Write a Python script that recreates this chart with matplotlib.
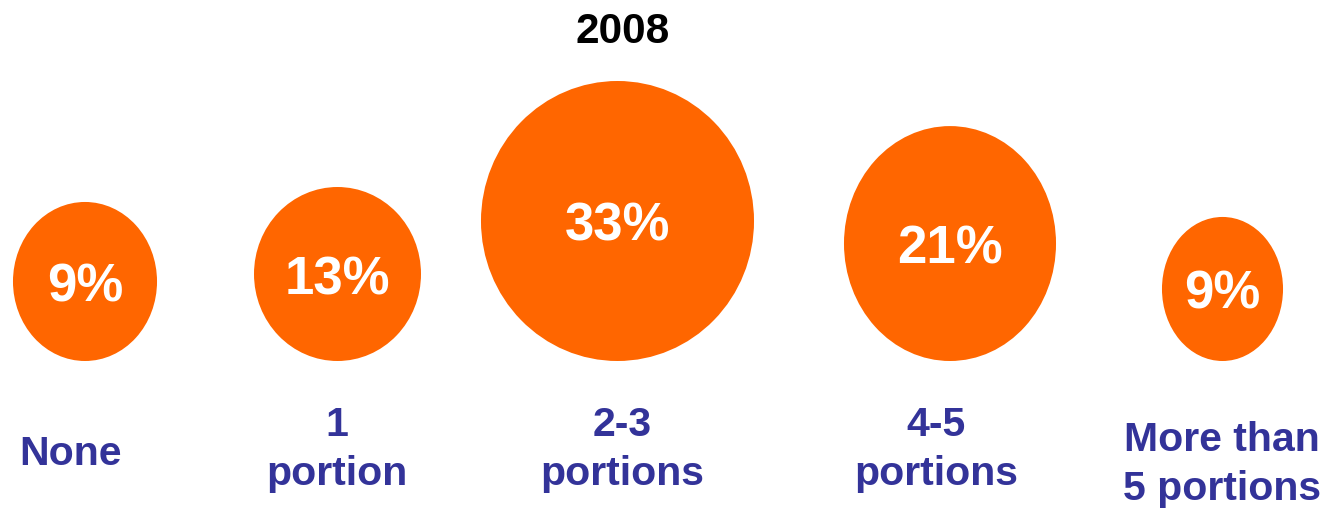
import numpy as np
import matplotlib
matplotlib.use("Agg")
import matplotlib.pyplot as plt
from matplotlib.patches import Ellipse

plt.rcParams['font.family'] = ['Liberation Sans', 'DejaVu Sans']

# Data
title = "2008"
categories = ["None", "1\nportion", "2-3\nportions", "4-5\nportions", "More than\n5 portions"]
shares = [9, 13, 33, 21, 9]

# Layout (pixel coordinates, y grows downward)
bubble_x = [85, 337.5, 617.5, 950, 1222.5]
bubble_bottom = 361
stretch_x = [0.99, 0.955, 0.98, 0.954, 0.832]
stretch_y = [1.093, 0.995, 1.005, 1.057, 0.99]
label_x = [70, 337, 622, 936, 1222]
label_y = [465, 485, 485, 485, 500]   # baseline of last line

orange = "#FF6600"
navy = "#333399"

fig = plt.figure(figsize=(13.36, 5.13), dpi=100)
ax = fig.add_axes([0, 0, 1, 1])
ax.set_xlim(0, 1336)
ax.set_ylim(513, 0)
ax.axis("off")

# Bubble diameter follows sqrt of the share (area ~ value)
for i, v in enumerate(shares):
    d = 48.5 * np.sqrt(v)
    w = d * stretch_x[i]
    h = d * stretch_y[i]
    cy = bubble_bottom - h / 2
    ax.add_patch(Ellipse((bubble_x[i], cy), w, h, color=orange, lw=0))
    ax.text(bubble_x[i], cy + 20, f"{v}%", color="white", fontsize=38,
            fontweight="bold", ha="center", va="baseline")

for i, lab in enumerate(categories):
    ax.text(label_x[i], label_y[i], lab, color=navy, fontsize=29.5,
            fontweight="bold", ha="center", va="baseline", linespacing=1.36)

ax.text(623, 43, title, color="black", fontsize=30.5, fontweight="bold",
        ha="center", va="baseline")

fig.savefig("out.png", dpi=100)
